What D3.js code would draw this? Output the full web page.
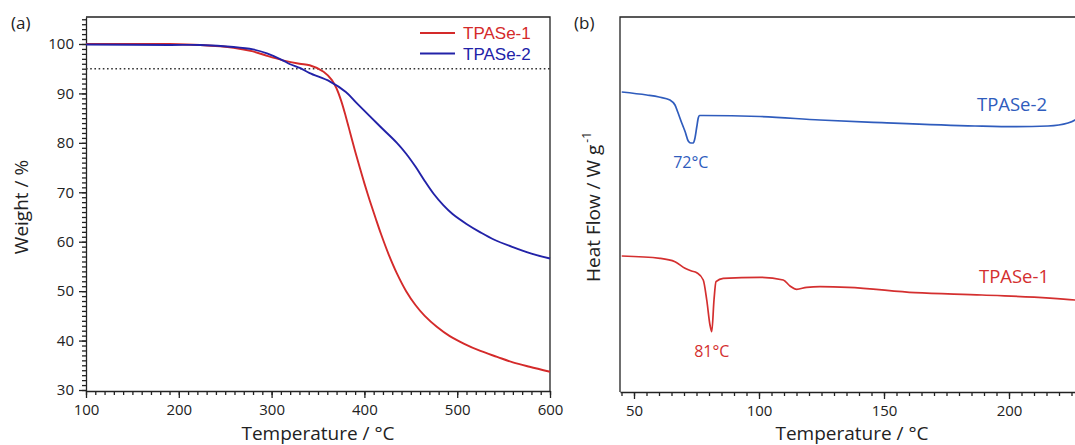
<!DOCTYPE html>
<html>
<head>
<meta charset="utf-8">
<script src="https://cdn.jsdelivr.net/npm/d3@7"></script>
<style>
  html, body { margin: 0; padding: 0; background: #fff; }
  svg { display: block; }
  .tick text { font-family: "Open Sans", "Noto Sans", sans-serif; font-size: 15px; fill: #222; }
  .tick line, .domain { stroke: #222; stroke-width: 1.3; }
</style>
</head>
<body>
<svg id="chart" width="1075" height="445"></svg>
<script>
// ---- TGA (panel a): temperature (°C) vs weight (%) ----
const tgaTemp1   = [100, 150, 190, 223, 259, 280, 295, 312, 330, 341, 356, 365, 370, 375, 380, 385, 390, 395, 400, 406, 412, 418, 426, 435, 445, 455, 465, 478, 492, 507, 525, 543, 560, 578, 600];
const tgaWeight1 = [100.0, 100.0, 100.0, 99.8, 99.25, 98.5, 97.6, 96.7, 96.0, 95.7, 94.4, 92.7, 91.0, 88.5, 85.3, 81.8, 78.3, 75.0, 71.8, 68.2, 64.8, 61.5, 57.5, 53.6, 50.0, 47.2, 45.0, 42.8, 40.9, 39.4, 37.9, 36.7, 35.6, 34.7, 33.7];
const tgaTemp2   = [100, 190, 223, 259, 280, 295, 312, 320, 331, 341, 363, 380, 392, 417, 435, 445, 455, 465, 475, 485, 495, 510, 525, 540, 560, 580, 600];
const tgaWeight2 = [99.9, 99.8, 99.8, 99.4, 98.9, 98.1, 96.7, 95.9, 95.1, 94.1, 92.4, 90.3, 88.0, 83.3, 80.0, 77.8, 75.2, 72.3, 69.6, 67.4, 65.6, 63.6, 61.9, 60.4, 58.9, 57.6, 56.6];
const tgaXTicks = [100, 200, 300, 400, 500, 600];
const tgaYTicks = [30, 40, 50, 60, 70, 80, 90, 100];
const tgaThreshold = 95; // 5 % weight-loss reference

// ---- DSC (panel b): temperature (°C) vs heat flow (arb. offset, W g-1) ----
const dscTemp2 = [45.1, 55.1, 60, 64.4, 66.4, 67.5, 69.1, 70.5, 71.7, 72.7, 73.7, 74.3, 75.1, 75.7, 76.2, 77.7, 100.4, 124.4, 149.2, 186.4, 202.4, 215.6, 223.6, 226.4, 229];
const dscFlow2 = [3.00, 2.97, 2.95, 2.92, 2.87, 2.80, 2.69, 2.60, 2.51, 2.49, 2.49, 2.53, 2.65, 2.74, 2.765, 2.765, 2.755, 2.72, 2.693, 2.66, 2.653, 2.66, 2.69, 2.72, 2.78];
const dscTemp1 = [45.1, 60.4, 66.4, 70.4, 73, 75.1, 77.7, 79.1, 80.4, 81.1, 82.0, 82.8, 85.7, 100.4, 109.7, 112.4, 115.1, 119.1, 124.4, 135.6, 162.4, 189.2, 226.4, 230];
const dscFlow1 = [1.36, 1.337, 1.303, 1.237, 1.21, 1.193, 1.12, 0.92, 0.67, 0.603, 0.92, 1.103, 1.137, 1.147, 1.12, 1.06, 1.027, 1.047, 1.053, 1.047, 0.993, 0.97, 0.92, 0.91];
const dscXTicks = [50, 100, 150, 200];
const seriesNames = ["TPASe-1", "TPASe-2"];
const peakLabels = ["81°C", "72°C"];
const peakTemps = [81.1, 72.7];
const peakFlows = [0.603, 2.49];

const RED = "#d42a2a", BLUE = "#2222a8", DSC_BLUE = "#2f5cbd", DSC_RED = "#d42f2f";
const LABEL_FONT = '"Open Sans", "Noto Sans", sans-serif';

const svg = d3.select("#chart");
const zip = (xs, ys) => xs.map((x, i) => [x, ys[i]]);

// ================= Panel (a) =================
const ax = d3.scaleLinear().domain([100, 600]).range([86, 550]);
const ay = d3.scaleLinear().domain([29.8, 105.46]).range([391, 17]);
const ga = svg.append("g");

// frame (top and right)
ga.append("path")
  .attr("d", `M${ax(100)},${ay.range()[1]}H${ax(600)}V${ay.range()[0]}`)
  .attr("fill", "none").attr("stroke", "#222").attr("stroke-width", 1.3);

// x axis: minor + major
ga.append("g").attr("transform", `translate(0,${ay.range()[0]})`)
  .call(d3.axisBottom(ax).tickValues(d3.range(100, 601, 10)).tickSize(4).tickFormat(""))
  .call(g => g.select(".domain").remove());
ga.append("g").attr("transform", `translate(0,${ay.range()[0]})`)
  .call(d3.axisBottom(ax).tickValues(tgaXTicks).tickSize(7).tickPadding(6).tickSizeOuter(0).tickFormat(d3.format("d")));

// y axis: minor + major
ga.append("g").attr("transform", `translate(${ax(100)},0)`)
  .call(d3.axisLeft(ay).tickValues(d3.range(30, 106, 1)).tickSize(4).tickFormat(""))
  .call(g => g.select(".domain").remove());
ga.append("g").attr("transform", `translate(${ax(100)},0)`)
  .call(d3.axisLeft(ay).tickValues(tgaYTicks).tickSize(7).tickPadding(5).tickSizeOuter(0).tickFormat(d3.format("d")));

// 95 % dotted reference line
ga.append("line")
  .attr("x1", ax(100)).attr("x2", ax(600))
  .attr("y1", ay(tgaThreshold)).attr("y2", ay(tgaThreshold))
  .attr("stroke", "#333").attr("stroke-width", 1.5).attr("stroke-dasharray", "1.6,2.6");

const lineA = d3.line().x(d => ax(d[0])).y(d => ay(d[1])).curve(d3.curveCatmullRom.alpha(0.5));
ga.append("path").datum(zip(tgaTemp1, tgaWeight1)).attr("d", lineA)
  .attr("fill", "none").attr("stroke", RED).attr("stroke-width", 1.9);
ga.append("path").datum(zip(tgaTemp2, tgaWeight2)).attr("d", lineA)
  .attr("fill", "none").attr("stroke", BLUE).attr("stroke-width", 1.9);

// legend
[RED, BLUE].forEach((c, i) => {
  const y = 33 + i * 20.5;
  ga.append("line").attr("x1", 420).attr("x2", 455).attr("y1", y).attr("y2", y)
    .attr("stroke", c).attr("stroke-width", 1.9);
  ga.append("text").attr("x", 463).attr("y", y + 6)
    .attr("font-family", '"Liberation Sans", Arial, sans-serif').attr("font-size", 17)
    .attr("fill", c).text(seriesNames[i]);
});

ga.append("text").attr("x", 11).attr("y", 29)
  .attr("font-family", LABEL_FONT).attr("font-size", 17).attr("fill", "#222").text("(a)");
ga.append("text").attr("transform", `translate(28,207) rotate(-90)`)
  .attr("text-anchor", "middle").attr("font-family", LABEL_FONT).attr("font-size", 19)
  .attr("fill", "#222").text("Weight / %");
ga.append("text").attr("x", 318).attr("y", 440)
  .attr("text-anchor", "middle").attr("font-family", LABEL_FONT).attr("font-size", 19)
  .attr("fill", "#222").text("Temperature / °C");

// ================= Panel (b) =================
const bx = d3.scaleLinear().domain([44.4, 250]).range([620, 1134]);
const by = d3.scaleLinear().domain([0, 3.75]).range([392, 17]);
const gb = svg.append("g");

gb.append("path")
  .attr("d", `M${bx(44.4)},${by(0)}V${by(3.75)}H${bx(250)}`)
  .attr("fill", "none").attr("stroke", "#222").attr("stroke-width", 1.3);

gb.append("g").attr("transform", `translate(0,${by(0)})`)
  .call(d3.axisBottom(bx).tickValues(d3.range(45, 250, 5)).tickSize(4).tickFormat(""))
  .call(g => g.select(".domain").remove());
gb.append("g").attr("transform", `translate(0,${by(0)})`)
  .call(d3.axisBottom(bx).tickValues(dscXTicks).tickSize(7).tickPadding(6).tickSizeOuter(0).tickFormat(d3.format("d")));

const lineB = d3.line().x(d => bx(d[0])).y(d => by(d[1])).curve(d3.curveMonotoneX);
gb.append("path").datum(zip(dscTemp2, dscFlow2)).attr("d", lineB)
  .attr("fill", "none").attr("stroke", DSC_BLUE).attr("stroke-width", 1.7);
gb.append("path").datum(zip(dscTemp1, dscFlow1)).attr("d", lineB)
  .attr("fill", "none").attr("stroke", DSC_RED).attr("stroke-width", 1.7);

// peak annotations
const peakColors = [DSC_RED, DSC_BLUE];
peakLabels.forEach((t, i) => {
  gb.append("text").attr("x", bx(peakTemps[i])).attr("y", by(peakFlows[i]) + 25)
    .attr("text-anchor", "middle").attr("font-family", LABEL_FONT).attr("font-size", 16)
    .attr("fill", peakColors[i]).text(t);
});
// curve names
gb.append("text").attr("x", 1012).attr("y", 111).attr("text-anchor", "middle")
  .attr("font-family", LABEL_FONT).attr("font-size", 18.5).attr("fill", DSC_BLUE).text(seriesNames[1]);
gb.append("text").attr("x", 1014).attr("y", 283).attr("text-anchor", "middle")
  .attr("font-family", LABEL_FONT).attr("font-size", 18.5).attr("fill", DSC_RED).text(seriesNames[0]);

gb.append("text").attr("x", 574).attr("y", 29)
  .attr("font-family", LABEL_FONT).attr("font-size", 17).attr("fill", "#222").text("(b)");
const yt = gb.append("text").attr("transform", `translate(600,207) rotate(-90)`)
  .attr("text-anchor", "middle").attr("font-family", LABEL_FONT).attr("font-size", 19).attr("fill", "#222");
yt.append("tspan").text("Heat Flow / W g");
yt.append("tspan").attr("dy", -9).attr("dx", 2).attr("font-size", 12).text("-1");
gb.append("text").attr("x", 852).attr("y", 440)
  .attr("text-anchor", "middle").attr("font-family", LABEL_FONT).attr("font-size", 19)
  .attr("fill", "#222").text("Temperature / °C");
</script>
</body>
</html>
